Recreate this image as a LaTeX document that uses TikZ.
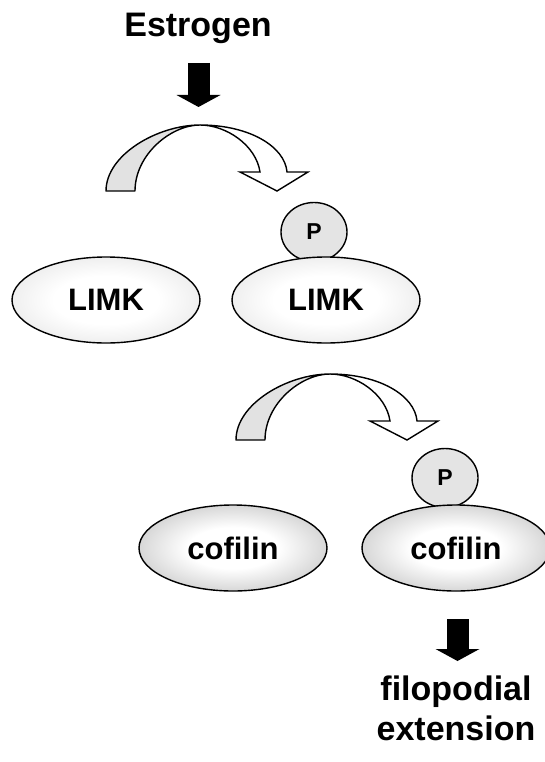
\documentclass[tikz,border=0pt]{standalone}
\usepackage{fontspec}
\setmainfont{Liberation Sans}
\usetikzlibrary{arrows.meta,shapes.geometric}

\definecolor{limkedge}{HTML}{CBCBCB}
\definecolor{cofedge}{HTML}{8A8A8A}
\definecolor{phos}{HTML}{E4E4E4}
\definecolor{band}{HTML}{E2E2E2}

% white centre fading to grey at the outline
\pgfdeclareradialshading{limkfill}{\pgfpointorigin}{color(0bp)=(white); color(14bp)=(white); color(50bp)=(limkedge)}
\pgfdeclareradialshading{cofilinfill}{\pgfpointorigin}{color(0bp)=(white); color(12bp)=(white); color(50bp)=(cofedge)}

\tikzset{
  protein/.style={ellipse, draw, line width=1.4pt, minimum width=188pt, minimum height=86pt,
    inner sep=0pt, font=\fontsize{31}{36}\selectfont\bfseries},
  limk/.style={protein, shading=limkfill},
  cofilin/.style={protein, shading=cofilinfill},
  phospho/.style={ellipse, draw, line width=1.4pt, fill=phos, minimum width=66pt,
    minimum height=59pt, inner sep=0pt, font=\fontsize{23}{26}\selectfont\bfseries},
  bigtext/.style={font=\fontsize{34}{40}\selectfont\bfseries, anchor=base, inner sep=0pt},
  blockarrow/.style={line width=22pt, -{Triangle[length=12pt,width=44pt,line width=0pt]}},
  % twisted ribbon arrow: grey side rising on the left, white side with head on the right
  turnarrow/.pic={
    \filldraw[fill=band, line width=1.4pt, line join=round]
      (-94,66) .. controls (-94,29.5) and (-42,0) .. (0,0)
      .. controls (-29,0) and (-65,29.5) .. (-65,66) -- cycle;
    \filldraw[fill=white, line width=1.4pt, line join=miter]
      (0,0) .. controls (50,0) and (85,22) .. (87,47) -- (108,47) -- (77,66)
      -- (40,47) -- (60,47) .. controls (56,20) and (26,0) .. (0,0) -- cycle;
  }
}

\begin{document}
\begin{tikzpicture}[x=1pt, y=-1pt]
\useasboundingbox (0,0) rectangle (544,762);

% stimulus
\node[bigtext] (estrogen) at (198,37) {Estrogen};
\coordinate (a1s) at (198.5,63);
\coordinate (a1e) at (198.5,107);
\draw[blockarrow] (a1s) -- (a1e);

% LIMK phosphorylation
\pic at (200,125) {turnarrow};
\node[limk] (limk1) at (106,300) {LIMK};
\node[phospho] (p1) at (314,232) {P};
\node[limk] (limk2) at (326,300) {LIMK};

% cofilin phosphorylation
\pic at (330,374) {turnarrow};
\node[cofilin] (cof1) at (233,548) {cofilin};
\node[phospho] (p2) at (445,478) {P};
\node[cofilin] (cof2) at (456,548) {cofilin};

% outcome
\coordinate (a2s) at (457.5,619);
\coordinate (a2e) at (457.5,661);
\draw[blockarrow] (a2s) -- (a2e);
\node[bigtext] (filo) at (456,700) {filopodial};
\node[bigtext] (ext) at (456,740) {extension};
\end{tikzpicture}
\end{document}
